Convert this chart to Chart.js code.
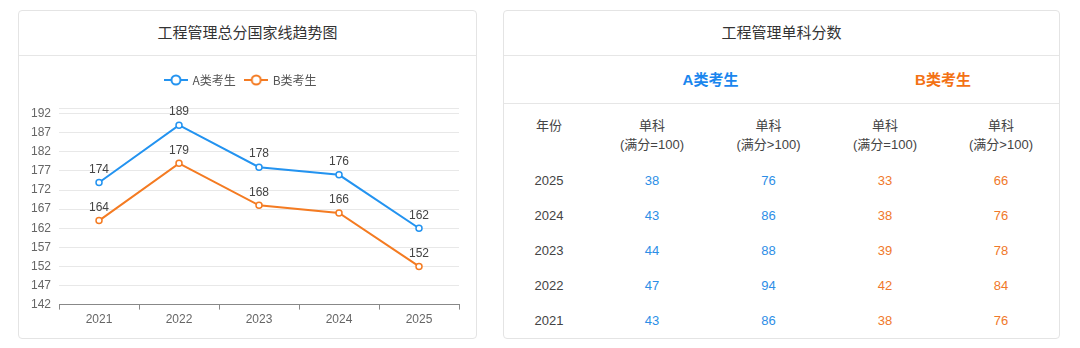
<!DOCTYPE html>
<html lang="zh-CN">
<head>
<meta charset="utf-8">
<title>工程管理国家线</title>
<script src="https://cdn.jsdelivr.net/npm/chart.js@4.4.1/dist/chart.umd.min.js"></script>
<style>
  body { margin: 0; background: #fff; font-family: "Liberation Sans", "Noto Sans CJK SC", sans-serif; color: #333; }
  .card { position: absolute; top: 10px; height: 327px; border: 1px solid #e4e4e4; border-radius: 4px; background: #fff; overflow: hidden; }
  .card-head { height: 44px; line-height: 44px; border-bottom: 1px solid #e6e6e6; text-align: center; font-size: 15px; color: #333; }
  #trendCard { left: 18px; width: 457px; }
  #scoreCard { left: 503px; width: 555px; }
  .chart-box { position: relative; width: 457px; height: 282px; }
  table { border-collapse: collapse; table-layout: fixed; width: 555px; font-size: 13px; }
  td, th { padding: 0; text-align: center; font-weight: normal; }
  .group-row th { height: 47px; font-size: 15px; font-weight: bold; border-bottom: 1px solid #e6e6e6; padding-bottom: 2px; box-sizing: border-box; }
  .sub-row th { height: 60px; vertical-align: top; padding-top: 12px; line-height: 19px; color: #444; box-sizing: border-box; }
  tbody td { height: 35px; line-height: 35px; }
  .year { color: #444; }
  .a { color: #2d8ee6; }
  .b { color: #f0782a; }
</style>
</head>
<body>
<div class="card" id="trendCard">
  <div class="card-head">工程管理总分国家线趋势图</div>
  <div class="chart-box"><canvas id="trend" width="457" height="282"></canvas></div>
</div>
<div class="card" id="scoreCard">
  <div class="card-head">工程管理单科分数</div>
  <table>
    <colgroup>
      <col style="width:90px"><col style="width:116px"><col style="width:117px"><col style="width:116px"><col style="width:116px">
    </colgroup>
    <thead>
      <tr class="group-row"><th></th><th colspan="2" style="color:#1a86ee">A类考生</th><th colspan="2" style="color:#f37215">B类考生</th></tr>
      <tr class="sub-row" id="subRow"></tr>
    </thead>
    <tbody id="scoreBody"></tbody>
  </table>
</div>

<script>
// 总分国家线
const years = ['2021', '2022', '2023', '2024', '2025'];
const totalA = [174, 189, 178, 176, 162];
const totalB = [164, 179, 168, 166, 152];
const yTicks = [142, 147, 152, 157, 162, 167, 172, 177, 182, 187, 192];
const yMax = 193.5;

// 单科分数（按年份倒序）
const tableYears = ['2025', '2024', '2023', '2022', '2021'];
const singleA100 = [38, 43, 44, 47, 43];
const singleAOver = [76, 86, 88, 94, 86];
const singleB100 = [33, 38, 39, 42, 38];
const singleBOver = [66, 76, 78, 84, 76];
const subHeaders = ['年份', '单科<br>(满分=100)', '单科<br>(满分>100)', '单科<br>(满分=100)', '单科<br>(满分>100)'];

const blue = '#2393f0';
const orange = '#f47b22';

// 表格
document.getElementById('subRow').innerHTML = subHeaders.map(h => '<th>' + h + '</th>').join('');
document.getElementById('scoreBody').innerHTML = tableYears.map((y, i) =>
  '<tr><td class="year">' + y + '</td>' +
  '<td class="a">' + singleA100[i] + '</td>' +
  '<td class="a">' + singleAOver[i] + '</td>' +
  '<td class="b">' + singleB100[i] + '</td>' +
  '<td class="b">' + singleBOver[i] + '</td></tr>'
).join('');

// 图例小图标：短线 + 空心圆
function legendIcon(color) {
  const c = document.createElement('canvas');
  c.width = 24; c.height = 12;
  const ctx = c.getContext('2d');
  ctx.strokeStyle = color;
  ctx.lineWidth = 2;
  ctx.beginPath(); ctx.moveTo(0, 6); ctx.lineTo(24, 6); ctx.stroke();
  ctx.fillStyle = '#fff';
  ctx.beginPath(); ctx.arc(12, 6, 4.5, 0, Math.PI * 2); ctx.fill(); ctx.stroke();
  return c;
}
const legendIcons = [legendIcon(blue), legendIcon(orange)];

// 图例与绘图区之间留出空隙
const legendGap = {
  id: 'legendGap',
  beforeInit(chart) {
    const fit = chart.legend.fit;
    chart.legend.fit = function () {
      fit.call(this);
      this.height += 12;
    };
  }
};

// 点上方的数值
const valueLabels = {
  id: 'valueLabels',
  afterDatasetsDraw(chart) {
    const ctx = chart.ctx;
    ctx.save();
    ctx.font = '12px "Liberation Sans", "Noto Sans CJK SC", sans-serif';
    ctx.fillStyle = '#444';
    ctx.textAlign = 'center';
    ctx.textBaseline = 'bottom';
    chart.data.datasets.forEach((ds, di) => {
      chart.getDatasetMeta(di).data.forEach((pt, i) => {
        ctx.fillText(ds.data[i], pt.x, pt.y - 7);
      });
    });
    ctx.restore();
  }
};

new Chart(document.getElementById('trend'), {
  type: 'line',
  data: {
    labels: years,
    datasets: [
      { label: 'A类考生', data: totalA, borderColor: blue, backgroundColor: '#fff' },
      { label: 'B类考生', data: totalB, borderColor: orange, backgroundColor: '#fff' }
    ]
  },
  options: {
    responsive: false,
    animation: false,
    layout: { padding: { left: 4, right: 17, top: 8, bottom: 8 } },
    elements: {
      line: { borderWidth: 2, tension: 0 },
      point: { pointStyle: 'circle', radius: 3, borderWidth: 1.5, backgroundColor: '#fff' }
    },
    plugins: {
      legend: {
        labels: {
          usePointStyle: true,
          pointStyleWidth: 21,
          boxHeight: 12,
          font: { size: 12, family: '"Noto Sans CJK SC", sans-serif' },
          color: '#555',
          padding: 10,
          generateLabels(chart) {
            const items = Chart.defaults.plugins.legend.labels.generateLabels(chart);
            items.forEach((it, i) => { it.pointStyle = legendIcons[i]; });
            return items;
          }
        }
      },
      tooltip: { enabled: false }
    },
    scales: {
      x: {
        offset: true,
        grid: { offset: true, drawOnChartArea: false, drawTicks: true, tickLength: 5, color: '#888' },
        border: { color: '#888' },
        ticks: { color: '#666', font: { size: 12 }, padding: 3 }
      },
      y: {
        min: yTicks[0],
        max: yMax,
        afterBuildTicks(axis) {
          axis.ticks = yTicks.map(v => ({ value: v })).concat([{ value: yMax }]);
        },
        grid: { color: '#e8e8e8', drawTicks: false },
        border: { display: false },
        ticks: {
          color: '#666',
          font: { size: 12 },
          padding: 8,
          callback: v => yTicks.includes(v) ? v : ''
        }
      }
    }
  },
  plugins: [valueLabels, legendGap]
});
</script>
</body>
</html>
